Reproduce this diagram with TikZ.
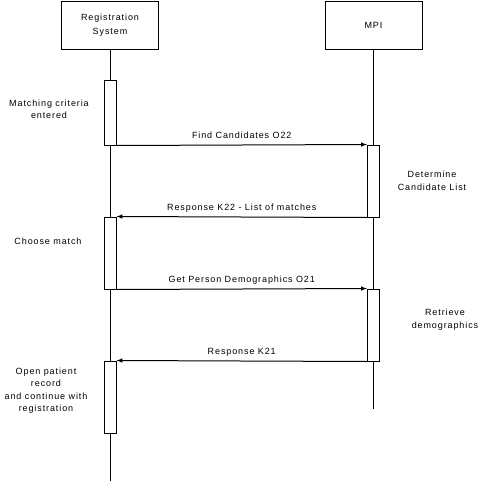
\documentclass[tikz,border=0pt]{standalone}
\usepackage{fontspec}
\setmainfont{Liberation Sans}[LetterSpace=10]
\usepackage{tikz}
\usetikzlibrary{arrows}

\begin{document}
\begin{tikzpicture}[x=1pt,y=-1pt,>=latex,line width=1pt]
\tikzstyle{actor}=[draw,minimum width=97pt,minimum height=48pt,align=center,font=\fontsize{9}{14}\selectfont]
\tikzstyle{act}=[draw,fill=white,minimum width=12pt,inner sep=0pt]
\tikzstyle{note}=[align=center,font=\fontsize{9}{12.5}\selectfont]
\tikzstyle{msg}=[draw,->]
\tikzstyle{lbl}=[midway,anchor=base,yshift=7pt,font=\fontsize{9}{11}\selectfont]
\useasboundingbox (0,0) rectangle (498,482);
\node[actor] (reg) at (110,25) {Registration\\System};
\node[actor] (mpi) at (373.5,25) {MPI};
\coordinate (regEnd) at (110,481);
\coordinate (mpiEnd) at (373.5,409);
\path[draw] (reg) -- (regEnd);
\path[draw] (mpi) -- (mpiEnd);
\foreach \x/\ya/\yb/\name in {110/80/145/regA,110/217/289/regB,110/361/433/regC,373.5/145/217/mpiA,373.5/289/361/mpiB}
  \node[act,minimum height={(\yb-\ya)*1pt}] (\name) at (\x,{(\ya+\yb)/2}) {};
\path[msg] (regA.south east) to node[lbl] {Find Candidates O22} (mpiA.north west);
\path[msg] (mpiA.south west) to node[lbl] {Response K22 - List of matches} (regB.north east);
\path[msg] (regB.south east) to node[lbl] {Get Person Demographics O21} (mpiB.north west);
\path[msg] (mpiB.south west) to node[lbl] {Response K21} (regC.north east);
\node[note] (crit) at (49,109.5) {Matching criteria\\entered};
\node[note] (candList) at (432,181) {Determine\\Candidate List};
\node[note] (choose) at (48,241) {Choose match};
\node[note] (retr) at (445,319.5) {Retrieve\\demographics};
\node[note] (openRec) at (46,390.5) {Open patient\\record\\and continue with\\registration};
\end{tikzpicture}
\end{document}
